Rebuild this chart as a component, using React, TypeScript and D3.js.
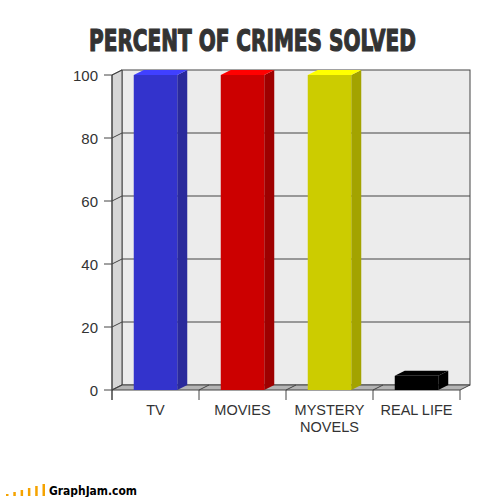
import * as d3 from "d3"
import React, { useRef, useLayoutEffect, useState } from "react"

const categories = ["TV", "MOVIES", "MYSTERY NOVELS", "REAL LIFE"]
const values = [100, 100, 100, 4.5]
const frontColors = ["#3333cc", "#cc0000", "#cccc00", "#000000"]
const sideColors = ["#2a2a9c", "#9e0000", "#a3a300", "#000000"]
const topColors = ["#4040ff", "#ff0000", "#ffff00", "#000000"]
const yTicks = [0, 20, 40, 60, 80, 100]
const logoBars = [2, 4, 6, 8, 10, 12]

const width = 504,
  height = 497
const dx = 10,
  dy = -5

function App() {
  const titleRef = useRef<SVGTextElement>(null)
  const [titleScale, setTitleScale] = useState(0.8)

  useLayoutEffect(() => {
    if (titleRef.current) {
      const len = titleRef.current.getComputedTextLength()
      if (len > 0) setTitleScale(327 / len)
    }
  }, [])

  const x = d3.scaleBand<string>().domain(categories).range([112, 460])
  const y = d3.scaleLinear().domain([0, 100]).range([390, 75])
  const bw = x.bandwidth() * 0.5
  const x0 = x.range()[0],
    x1 = x.range()[1]
  const yb = y(0),
    yt = y(100)

  const pts = (p: number[][]) => p.map((d) => d.join(",")).join(" ")

  return (
    <svg width={width} height={height} style={{ position: "absolute", left: 0, top: 0, background: "#fff" }}>
      <g transform={`translate(252.5,51) scale(${titleScale},1)`}>
        <text
          ref={titleRef}
          textAnchor="middle"
          fontFamily="'DejaVu Sans Condensed', 'DejaVu Sans'"
          fontWeight="bold"
          fontSize={30}
          fill="#333"
          stroke="#333"
          strokeWidth={1.2}
        >
          PERCENT OF CRIMES SOLVED
        </text>
      </g>

      {/* back wall */}
      <rect x={x0 + dx} y={yt + dy} width={x1 - x0} height={yb - yt} fill="#ececec" stroke="#444" strokeWidth={1} />
      {/* left wall */}
      <polygon
        points={pts([[x0, yt], [x0 + dx, yt + dy], [x0 + dx, yb + dy], [x0, yb]])}
        fill="#d6d6d6"
        stroke="#444"
      />
      {/* floor */}
      <polygon
        points={pts([[x0, yb], [x0 + dx, yb + dy], [x1 + dx, yb + dy], [x1, yb]])}
        fill="#b4b4b4"
        stroke="#444"
      />

      {yTicks.map((t) => (
        <g key={t}>
          {t > 0 && t < 100 && (
            <line x1={x0 + dx} x2={x1 + dx} y1={y(t) + dy} y2={y(t) + dy} stroke="#444" />
          )}
          <line x1={x0} x2={x0 + dx} y1={y(t)} y2={y(t) + dy} stroke="#444" />
          <line x1={x0 - 8} x2={x0} y1={y(t)} y2={y(t)} stroke="#444" />
          <text
            x={98}
            y={y(t) + 5.5}
            textAnchor="end"
            fontFamily="'Liberation Sans', Arial, sans-serif"
            fontSize={15}
            fill="#333"
          >
            {t}
          </text>
        </g>
      ))}

      {/* floor dividers and category ticks */}
      {[...categories.map((c) => x(c) as number), x1].map((bx, i) => (
        <g key={i}>
          {i > 0 && i < categories.length && (
            <line x1={bx} x2={bx + dx} y1={yb} y2={yb + dy} stroke="#444" />
          )}
          <line x1={bx} x2={bx} y1={yb} y2={yb + 10} stroke="#444" />
        </g>
      ))}
      <line x1={x0} x2={x0} y1={yt} y2={yb + 10} stroke="#444" />

      {categories.map((c, i) => {
        const bx = (x(c) as number) + x.bandwidth() * 0.25
        const by = y(values[i])
        return (
          <g key={c}>
            <polygon
              points={pts([[bx + bw, by], [bx + bw + dx, by + dy], [bx + bw + dx, yb + dy], [bx + bw, yb]])}
              fill={sideColors[i]}
            />
            <polygon
              points={pts([[bx, by], [bx + dx, by + dy], [bx + bw + dx, by + dy], [bx + bw, by]])}
              fill={topColors[i]}
            />
            <rect x={bx} y={by} width={bw} height={yb - by} fill={frontColors[i]} />
          </g>
        )
      })}

      {categories.map((c) => {
        const words = c === "MYSTERY NOVELS" ? ["MYSTERY", "NOVELS"] : [c]
        const cx = (x(c) as number) + x.bandwidth() / 2
        return (
          <text
            key={c}
            x={cx}
            y={415}
            textAnchor="middle"
            fontFamily="'Liberation Sans', Arial, sans-serif"
            fontSize={14.5}
            fill="#333"
          >
            {words.map((w, j) => (
              <tspan key={w} x={cx} dy={j === 0 ? 0 : 17}>
                {w}
              </tspan>
            ))}
          </text>
        )
      })}

      {/* footer logo */}
      {logoBars.map((h, i) => (
        <rect key={i} x={6 + i * 7.3} y={496 - h} width={2.5} height={h} fill="#f5a300" />
      ))}
      <text
        x={49}
        y={495}
        textLength={88}
        lengthAdjust="spacingAndGlyphs"
        fontFamily="'DejaVu Sans', sans-serif"
        fontWeight="bold"
        fontSize={12}
        fill="#000"
      >
        GraphJam.com
      </text>
    </svg>
  )
}

export default App
